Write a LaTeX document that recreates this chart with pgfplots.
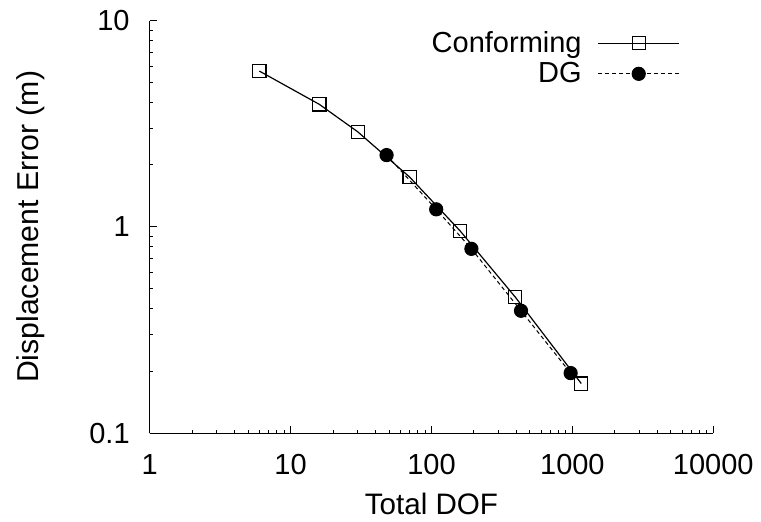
\documentclass[border=0pt]{standalone}
\usepackage{fontspec}
\setmainfont{Liberation Sans}
\usepackage{pgfplots}
\pgfplotsset{compat=1.18}
\begin{document}
\begin{tikzpicture}
\useasboundingbox (-74.85pt,-44pt) rectangle (305.65pt,216.55pt);
\begin{axis}[
  at={(0pt,0pt)}, anchor=south west,
  scale only axis,
  width=281.8pt, height=206.2pt,
  xmode=log, ymode=log,
  xmin=1, xmax=10000, ymin=0.1, ymax=10,
  axis x line*=bottom, axis y line*=left,
  axis line style={line width=0.6pt},
  every tick/.style={line width=0.5pt, black},
  major tick length=3.5pt, minor tick length=1.8pt,
  tick align=inside,
  xtick={1,10,100,1000,10000}, xticklabels={1,10,100,1000,10000},
  ytick={0.1,1,10}, yticklabels={0.1,1,10},
  /pgf/number format/assume math mode=true,
  font=\fontsize{14.5}{17}\selectfont,
  tick label style={font=\fontsize{14.5}{17}\selectfont},
  xlabel style={font=\fontsize{14.8}{17}\selectfont},
  ylabel style={font=\fontsize{15.1}{17}\selectfont},
  xlabel={Total DOF}, ylabel={Displacement Error (m)},
  xticklabel style={yshift=-7pt},
  yticklabel style={xshift=-6.5pt},
  xlabel style={yshift=-2.5pt},
  ylabel style={yshift=15.5pt},
  legend plot pos=right,
  legend cell align=right,
  legend style={draw=none, fill=none, at={(0.952,0.995)}, anchor=north east,
    font=\fontsize{14.5}{17}\selectfont, row sep=-0.5pt, column sep=6pt},
  legend image code/.code={\draw[mark repeat=2,mark phase=2,#1] plot coordinates {(0pt,0pt)(20.25pt,0pt)(40.5pt,0pt)};},
]
\addplot[black, line width=0.6pt, mark=square, mark size=3.3pt, mark options={solid, line width=0.6pt, fill=white}]
  coordinates {(6,5.70) (16,3.93) (30,2.89) (70,1.745) (160,0.955) (393,0.457) (1156,0.174)};
\addlegendentry{Conforming}
\addplot[black, line width=0.5pt, dash pattern=on 2pt off 1.5pt, mark=*, mark size=3.3pt, mark options={solid}]
  coordinates {(48,2.23) (108,1.217) (192,0.783) (432,0.392) (972,0.1955)};
\addlegendentry{DG}
\end{axis}
\end{tikzpicture}
\end{document}
